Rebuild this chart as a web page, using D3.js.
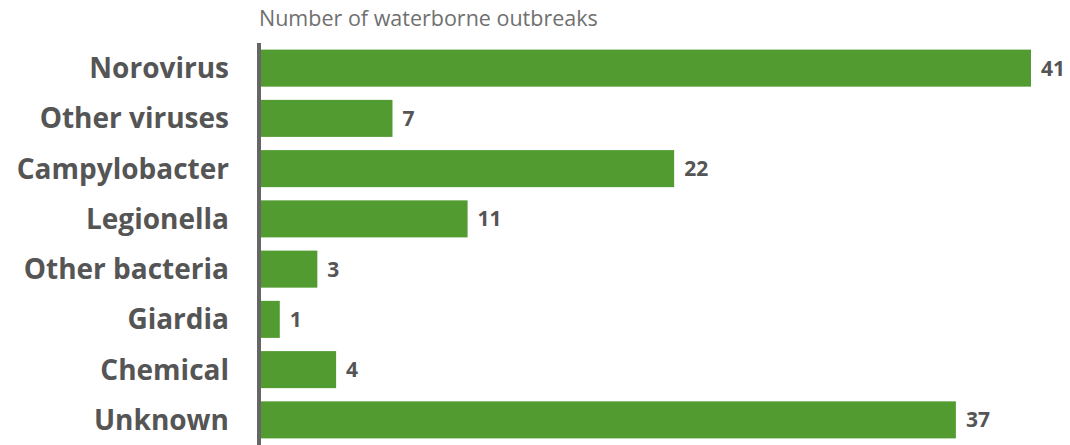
<!DOCTYPE html>
<html><head><meta charset="utf-8">
<script src="https://cdn.jsdelivr.net/npm/d3@7"></script>
<style>body{margin:0;background:#fff;}svg{display:block;}</style>
</head><body>
<svg id="chart" width="1070" height="445"></svg>
<script>
const categories = ["Norovirus","Other viruses","Campylobacter","Legionella","Other bacteria","Giardia","Chemical","Unknown"];
const values = [41,7,22,11,3,1,4,37];
const axisTitle = "Number of waterborne outbreaks";

const svg = d3.select("#chart");
const x0 = 261;
const x = d3.scaleLinear().domain([0,41]).range([x0, 1031]);
const y = d3.scaleBand().domain(categories).range([43,445]).paddingInner(0.263).paddingOuter(0.1315);
const font = "'Open Sans', sans-serif";

svg.append("text").attr("x",259).attr("y",26).attr("font-family",font).attr("font-weight",400)
  .attr("font-size",21.5).attr("fill","#707070").text(axisTitle);

svg.selectAll("rect.bar").data(values).join("rect").attr("class","bar")
  .attr("x", x0).attr("y",(d,i)=>y(categories[i])).attr("width",d=>x(d)-x0)
  .attr("height",y.bandwidth()).attr("fill","#529b30");

svg.selectAll("text.val").data(values).join("text").attr("class","val")
  .attr("x",d=>x(d)+10).attr("y",(d,i)=>y(categories[i])+y.bandwidth()/2)
  .attr("dy","0.36em").attr("font-family",font).attr("font-weight",700).attr("font-size",21)
  .attr("fill","#555").text(d=>d);

svg.selectAll("text.cat").data(categories).join("text").attr("class","cat")
  .attr("x",229).attr("y",d=>y(d)+y.bandwidth()/2).attr("dy","0.36em").attr("text-anchor","end")
  .attr("font-family",font).attr("font-weight",700).attr("font-size",28).attr("fill","#555").text(d=>d);

svg.append("line").attr("x1",259).attr("x2",259).attr("y1",43).attr("y2",445)
  .attr("stroke","#666").attr("stroke-width",4);
</script>
</body></html>
